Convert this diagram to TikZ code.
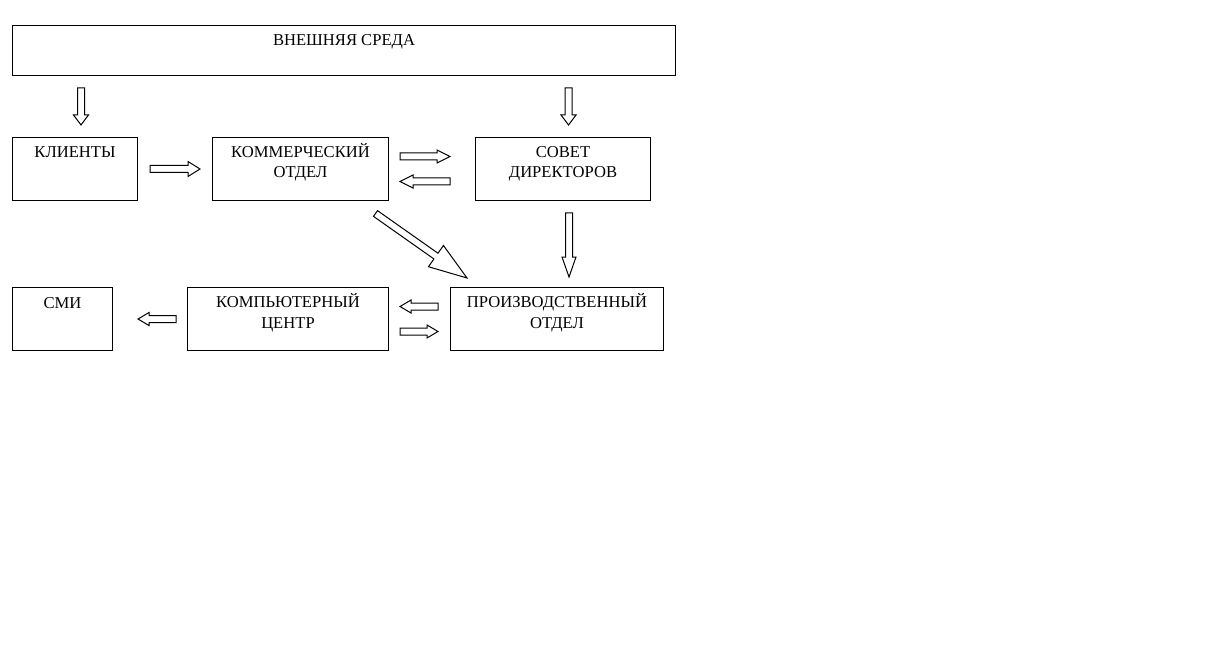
\documentclass[tikz,border=0pt]{standalone}
\usepackage{fontspec}
\setmainfont{Liberation Serif}
\usetikzlibrary{calc}

\begin{document}
\begin{tikzpicture}[x=0.5pt, y=-0.5pt, line width=0.5pt,
  box/.style={draw, anchor=north west, inner sep=0pt, minimum height=31.5pt},
  txt/.style={anchor=base, align=center, inner sep=0pt, font=\fontsize{8.3}{10}\selectfont},
  arr/.style={draw, line join=miter}]
\useasboundingbox (0,0) rectangle (1214,663);

%block arrow: from, to, half shaft, half head, head length
\def\Arrow#1#2#3#4#5{
\coordinate (n) at ($(#2)!#5*0.5pt!(#1)$);
\draw[arr] ($(#1)!#3*0.5pt!90:(#2)$) -- ($(n)!#3*0.5pt!90:(#2)$) -- ($(n)!#4*0.5pt!90:(#2)$)
  -- (#2) -- ($(n)!#4*0.5pt!-90:(#2)$) -- ($(n)!#3*0.5pt!-90:(#2)$) -- ($(#1)!#3*0.5pt!-90:(#2)$) -- cycle;
}

%boxes
\node[box, minimum width=331.5pt, minimum height=25pt] (env) at (12,25) {};
\node[box, minimum width=62.5pt] (cli) at (12,137) {};
\node[box, minimum width=88pt] (kom) at (212,137) {};
\node[box, minimum width=87.5pt] (sov) at (475,137) {};
\node[box, minimum width=50pt] (smi) at (12,287) {};
\node[box, minimum width=100.5pt] (komp) at (187,287) {};
\node[box, minimum width=106.5pt] (proiz) at (450,287) {};

%texts (base = last line)
\node[txt] (env-t) at ($(env.north)+(0,21)$) {ВНЕШНЯЯ СРЕДА};
\node[txt] (cli-t) at ($(cli.north)+(0,21)$) {КЛИЕНТЫ};
\node[txt] (kom-t) at ($(kom.north)+(0,41)$) {КОММЕРЧЕСКИЙ\\ОТДЕЛ};
\node[txt] (sov-t) at ($(sov.north)+(0,41)$) {СОВЕТ\\ДИРЕКТОРОВ};
\node[txt] (smi-t) at ($(smi.north)+(0,21)$) {СМИ};
\node[txt] (komp-t) at ($(komp.north)+(0,41)$) {КОМПЬЮТЕРНЫЙ\\ЦЕНТР};
\node[txt] (proiz-t) at ($(proiz.north)+(0,41)$) {ПРОИЗВОДСТВЕННЫЙ\\ОТДЕЛ};

%arrows
\Arrow{$(env.south west)+(69,12)$}{$(cli.north west)+(69,-12)$}{3.5}{7.5}{10}
\Arrow{$(env.south -| sov.north)+(5.5,12)$}{$(sov.north)+(5.5,-12)$}{3.5}{7.5}{10}
\Arrow{$(cli.east)+(12,0)$}{$(kom.west)+(-12,0)$}{3.5}{7.5}{12}
\Arrow{$(kom.east)+(11,-12.5)$}{$(sov.west)+(-25,-12.5)$}{3.5}{6.5}{13}
\Arrow{$(sov.west)+(-25,12.5)$}{$(kom.east)+(11,12.5)$}{3.5}{6.5}{13}
\Arrow{$(kom.south east)+(-13.5,12.5)$}{$(proiz.north west)+(17,-9)$}{3.5}{13}{38}
\Arrow{$(sov.south)+(6,12)$}{$(sov.south |- proiz.north)+(6,-10)$}{3.5}{7}{20}
\Arrow{$(proiz.west)+(-12,-12.5)$}{$(komp.east)+(11,-12.5)$}{3.5}{6.5}{11}
\Arrow{$(komp.east)+(11,12.5)$}{$(proiz.west)+(-12,12.5)$}{3.5}{6.5}{11}
\Arrow{$(komp.west)+(-11,0)$}{$(smi.east)+(25,0)$}{3.5}{6.5}{11}
\end{tikzpicture}
\end{document}
